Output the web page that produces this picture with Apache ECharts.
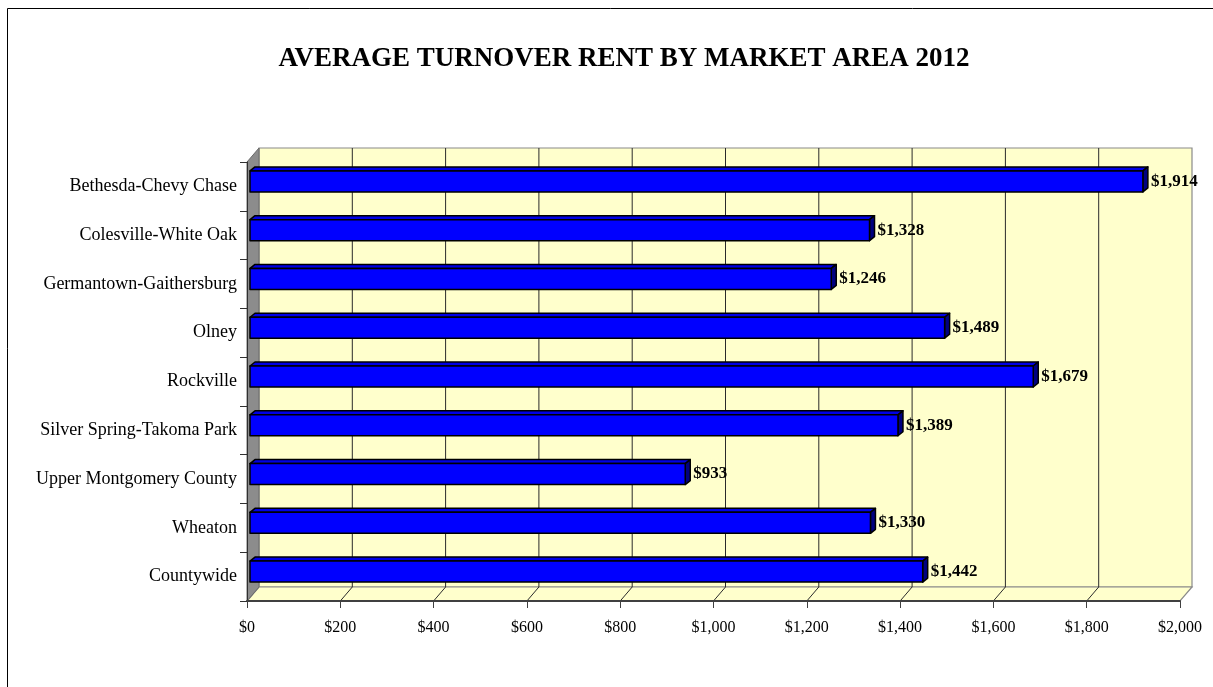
<!DOCTYPE html>
<html>
<head>
<meta charset="utf-8">
<script src="https://cdn.jsdelivr.net/npm/echarts@6/dist/echarts.min.js"></script>
<style>
  html, body { margin: 0; padding: 0; background: #ffffff; }
  #chart { width: 1213px; height: 687px; }
</style>
</head>
<body>
<div id="chart"></div>
<script>
// Market areas, top to bottom
const areas = [
  'Bethesda-Chevy Chase',
  'Colesville-White Oak',
  'Germantown-Gaithersburg',
  'Olney',
  'Rockville',
  'Silver Spring-Takoma Park',
  'Upper Montgomery County',
  'Wheaton',
  'Countywide'
];
// Average turnover rent, 2012 (dollars per month)
const rents = [1914, 1328, 1246, 1489, 1679, 1389, 933, 1330, 1442];
// Value axis range and step
const axisMin = 0;
const axisMax = 2000;
const axisStep = 200;

const SERIF = '"Liberation Serif", "Times New Roman", serif';
const money = v => '$' + Math.round(v).toLocaleString('en-US');

// depth of the walls/floor and of each bar
const WALL_DX = 12, WALL_DY = -14;
const BAR_DX = 5, BAR_DY = -4;

function renderWalls(params, api) {
  const cs = params.coordSys;
  const top = cs.y, bottom = cs.y + cs.height;
  const x0 = api.coord([axisMin, 0])[0];
  const x1 = api.coord([axisMax, 0])[0];
  const dx = WALL_DX, dy = WALL_DY;
  const children = [];
  // back wall
  children.push({
    type: 'polygon',
    shape: { points: [[x0 + dx, top + dy], [x1 + dx, top + dy], [x1 + dx, bottom + dy], [x0 + dx, bottom + dy]] },
    style: { fill: '#FFFFCC', stroke: '#8a8a8a', lineWidth: 1.2 }
  });
  // floor
  children.push({
    type: 'polygon',
    shape: { points: [[x0, bottom], [x1, bottom], [x1 + dx, bottom + dy], [x0 + dx, bottom + dy]] },
    style: { fill: '#FFFFCC', stroke: '#8a8a8a', lineWidth: 1.2 }
  });
  // gridlines on the back wall and across the floor
  for (let v = axisMin + axisStep; v < axisMax; v += axisStep) {
    const x = api.coord([v, 0])[0];
    children.push({
      type: 'line',
      shape: { x1: x + dx, y1: top + dy, x2: x + dx, y2: bottom + dy },
      style: { stroke: '#2a2a2a', lineWidth: 1 }
    });
    children.push({
      type: 'line',
      shape: { x1: x, y1: bottom, x2: x + dx, y2: bottom + dy },
      style: { stroke: '#2a2a2a', lineWidth: 1 }
    });
  }
  // side wall
  children.push({
    type: 'polygon',
    shape: { points: [[x0, top], [x0 + dx, top + dy], [x0 + dx, bottom + dy], [x0, bottom]] },
    style: { fill: '#8c8c8c', stroke: '#6a6a6a', lineWidth: 1 }
  });
  return { type: 'group', children: children };
}

function renderBar(params, api) {
  const idx = api.value(0);
  const val = api.value(1);
  const c0 = api.coord([axisMin, idx]);
  const c1 = api.coord([val, idx]);
  const band = api.size([0, 1])[1];
  const h = band * 0.43;
  const cy = c0[1] - 5;
  const xa = c0[0] + 3, xb = c1[0] + 3;
  const ya = cy - h / 2, yb = cy + h / 2;
  const edge = { stroke: '#000000', lineWidth: 1.5, lineJoin: 'round' };
  return {
    type: 'group',
    children: [
      { type: 'polygon', shape: { points: [[xa, ya], [xb, ya], [xb + BAR_DX, ya + BAR_DY], [xa + BAR_DX, ya + BAR_DY]] },
        style: Object.assign({ fill: '#0000E6' }, edge) },
      { type: 'polygon', shape: { points: [[xb, ya], [xb + BAR_DX, ya + BAR_DY], [xb + BAR_DX, yb + BAR_DY], [xb, yb]] },
        style: Object.assign({ fill: '#000080' }, edge) },
      { type: 'rect', shape: { x: xa, y: ya, width: xb - xa, height: yb - ya },
        style: Object.assign({ fill: '#0000FF' }, edge) },
      { type: 'text', x: xb + BAR_DX + 3, y: cy,
        style: { text: money(val), fill: '#000000', font: 'bold 17px ' + SERIF,
                 textAlign: 'left', textVerticalAlign: 'middle' } }
    ]
  };
}

const chart = echarts.init(document.getElementById('chart'), null, { renderer: 'canvas' });
chart.setOption({
  backgroundColor: '#ffffff',
  animation: false,
  title: {
    text: 'AVERAGE TURNOVER RENT BY MARKET AREA 2012',
    left: 619, top: 41, textAlign: 'center',
    textStyle: { fontFamily: SERIF, fontWeight: 'bold', fontSize: 27, color: '#000000' }
  },
  graphic: [{
    type: 'rect', silent: true,
    shape: { x: 7.5, y: 8.5, width: 1300, height: 800 },
    style: { fill: 'none', stroke: '#000000', lineWidth: 1 }
  }],
  grid: { left: 247, top: 162, width: 933, height: 439, containLabel: false },
  xAxis: {
    type: 'value', min: axisMin, max: axisMax, interval: axisStep, z: 5,
    axisLine: { show: true, lineStyle: { color: '#404040', width: 2 } },
    axisTick: { show: true, length: 7, lineStyle: { color: '#404040', width: 1 } },
    splitLine: { show: false },
    axisLabel: { formatter: money, fontFamily: SERIF, fontSize: 16, color: '#000000', margin: 19 }
  },
  yAxis: {
    type: 'category', data: areas, inverse: true, z: 5,
    axisLine: { show: true, lineStyle: { color: '#303030', width: 1 } },
    axisTick: { show: true, length: 7, lineStyle: { color: '#303030', width: 1 } },
    axisLabel: { fontFamily: SERIF, fontSize: 18, color: '#000000', margin: 10 }
  },
  series: [
    {
      type: 'custom', z: 1, silent: true,
      renderItem: renderWalls,
      data: [[0, 0]],
      encode: { x: 0, y: 1 }
    },
    {
      type: 'custom', z: 10,
      renderItem: renderBar,
      data: rents.map((v, i) => [i, v]),
      encode: { x: 1, y: 0 }
    }
  ]
});
</script>
</body>
</html>
